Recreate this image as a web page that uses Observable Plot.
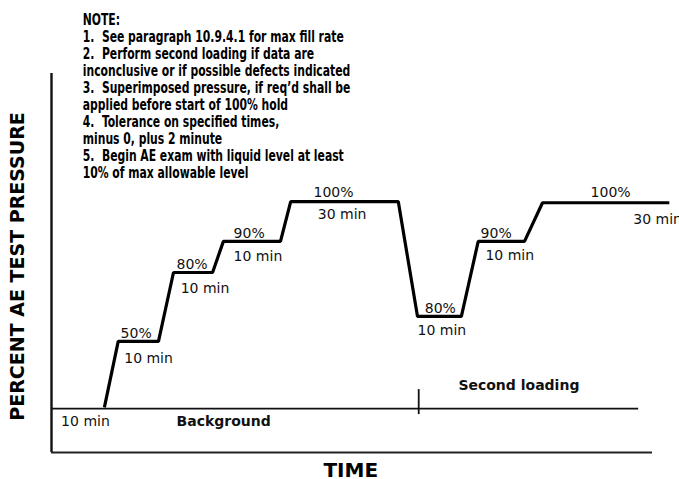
<!DOCTYPE html>
<html>
<head>
<meta charset="utf-8">
<script src="https://cdn.jsdelivr.net/npm/d3@7"></script>
<script src="https://cdn.jsdelivr.net/npm/@observablehq/plot@0.6"></script>
<style>
  html, body { margin: 0; padding: 0; background: #fff; }
  #chart svg { display: block; }
</style>
</head>
<body>
<div id="chart"></div>
<script>
// ---- Data (schematic units: time 0–100 across the axis, level 0–100 up the axis) ----
const profileTime  = [8.8, 11.1, 17.8, 20.3, 26.8, 28.6, 38.1, 39.8, 57.7, 60.9, 68.2, 71.0, 78.7, 81.7, 102.8];
const profileLevel = [11.9, 29.3, 29.3, 47.5, 47.5, 55.7, 55.7, 66.2, 66.2, 35.9, 35.9, 55.7, 55.7, 65.9, 65.9];

const baselineLevel = 11.6;
const baselineEnd = 97.7;
const secondLoadingTime = 61.1;
const secondLoadingTick = [10.0, 16.6];

const stepLabels = ["10 min", "50%", "10 min", "80%", "10 min", "90%", "10 min", "100%", "30 min",
                    "80%", "10 min", "90%", "10 min", "100%", "30 min"];
const stepLabelTime  = [1.6, 11.5, 12.1, 20.8, 21.5, 30.3, 30.3, 43.6, 44.3, 62.1, 60.9, 71.4, 72.2, 89.7, 96.8];
const stepLabelLevel = [6.9, 30.3, 23.7, 48.5, 42.0, 56.7, 50.4, 67.5, 61.5, 36.9, 30.9, 56.5, 50.7, 67.3, 60.2];

const phaseLabels = ["Background", "Second loading"];
const phaseLabelTime  = [20.8, 67.7];
const phaseLabelLevel = [7.1, 16.4];

const notes = [
  "NOTE:",
  "1.\u00a0 See paragraph 10.9.4.1 for max fill rate",
  "2.\u00a0 Perform second loading if data are",
  "inconclusive or if possible defects indicated",
  "3.\u00a0 Superimposed pressure, if req\u2019d shall be",
  "applied before start of 100% hold",
  "4.\u00a0 Tolerance on specified times,",
  "minus 0, plus 2 minute",
  "5.\u00a0 Begin AE exam with liquid level at least",
  "10% of max allowable level"
];

const yLabel = "PERCENT AE TEST PRESSURE";
const xLabel = "TIME";

// ---- Build ----
const profile = profileTime.map((t, i) => ({t, v: profileLevel[i]}));
const stepData = stepLabels.map((s, i) => ({s, t: stepLabelTime[i], v: stepLabelLevel[i]}));
const phaseData = phaseLabels.map((s, i) => ({s, t: phaseLabelTime[i], v: phaseLabelLevel[i]}));

const notesFamily = "'DejaVu Sans Condensed', 'DejaVu Sans', sans-serif";
const notesSize = 15;
const notesWidth = 268; // widest note line in the drawing, px

const chart = Plot.plot({
  width: 679,
  height: 479,
  marginLeft: 51,
  marginRight: 27,
  marginTop: 73,
  marginBottom: 27,
  x: {domain: [0, 100], axis: null},
  y: {domain: [0, 100], axis: null},
  style: {fontFamily: "'DejaVu Sans', Verdana, sans-serif", background: "#fff", color: "#000", overflow: "visible"},
  marks: [
    // axes frame (left and bottom)
    Plot.ruleX([0], {y1: 0, y2: 100, stroke: "#111", strokeWidth: 2.4}),
    Plot.ruleY([0], {x1: 0, x2: 100, stroke: "#222", strokeWidth: 2.2}),
    // background / second loading baseline
    Plot.ruleY([baselineLevel], {x1: 0, x2: baselineEnd, stroke: "#111", strokeWidth: 1.8}),
    Plot.ruleX([secondLoadingTime], {y1: secondLoadingTick[0], y2: secondLoadingTick[1], stroke: "#111", strokeWidth: 1.8}),
    // pressure profile
    Plot.line(profile, {x: "t", y: "v", stroke: "#000", strokeWidth: 3.2, strokeLinejoin: "miter", strokeLinecap: "butt"}),
    // step labels
    Plot.text(stepData, {x: "t", y: "v", text: "s", textAnchor: "start", lineAnchor: "bottom", fontSize: 14, fill: "#111"}),
    // phase labels
    Plot.text(phaseData, {x: "t", y: "v", text: "s", textAnchor: "start", lineAnchor: "bottom", fontSize: 14, fontWeight: "bold", fill: "#111"}),
    // notes
    Plot.text([notes.join("\n")], {x: 5.2, y: 116.1, text: d => d, textAnchor: "start", lineAnchor: "top",
      fontSize: notesSize, lineHeight: 17 / notesSize, fontWeight: "bold", fontFamily: notesFamily, fill: "#000"}),
    // axis titles
    Plot.text([yLabel], {x: -5.57, y: 49.1, text: d => d, rotate: -90, textAnchor: "middle", lineAnchor: "middle",
      fontSize: 19, fontWeight: "bold", fill: "#000"}),
    Plot.text([xLabel], {x: 49.8, y: -4.67, text: d => d, textAnchor: "middle", lineAnchor: "middle",
      fontSize: 20, fontWeight: "bold", fill: "#000"})
  ]
});

document.getElementById("chart").appendChild(chart);

// narrow the notes block horizontally (the drawing uses a condensed bold face)
d3.select(chart).selectAll("text")
  .filter(function() { return this.textContent.startsWith("NOTE:"); })
  .each(function() {
    const bb = this.getBBox();
    const k = Math.min(1, notesWidth / bb.width);
    const t = this.getAttribute("transform") || "";
    this.setAttribute("transform", `${t} translate(${bb.x},0) scale(${k},1) translate(${-bb.x},0)`);
  });
</script>
</body>
</html>
